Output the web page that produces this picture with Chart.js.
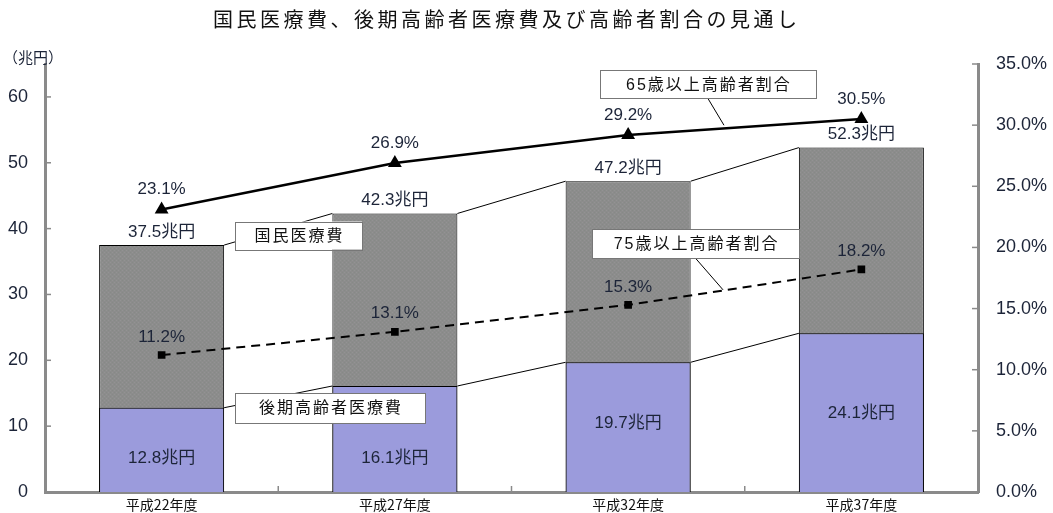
<!DOCTYPE html>
<html>
<head>
<meta charset="utf-8">
<script src="https://cdn.jsdelivr.net/npm/chart.js@4"></script>
<style>
  body { margin: 0; background: #fff; }
  #wrap { width: 1053px; height: 513px; }
</style>
</head>
<body>
<div id="wrap"><canvas id="grafico" width="1053" height="513"></canvas></div>
<script>
// データ
const categories = ['平成22年度', '平成27年度', '平成32年度', '平成37年度'];
const totalCost = [37.5, 42.3, 47.2, 52.3];        // 国民医療費（兆円）
const lateElderlyCost = [12.8, 16.1, 19.7, 24.1];  // 後期高齢者医療費（兆円）
const ratio65 = [23.1, 26.9, 29.2, 30.5];          // 65歳以上高齢者割合（%）
const ratio75 = [11.2, 13.1, 15.3, 18.2];          // 75歳以上高齢者割合（%）

const FONT = "'Liberation Sans', 'Noto Sans CJK JP', sans-serif";
const TEXT = '#1c2438';
const AXIS = '#8a8a8a';

const canvas = document.getElementById('grafico');
const ctx = canvas.getContext('2d');

// 灰色の棒の点描模様
function patternGray() {
  const c = document.createElement('canvas');
  c.width = 4; c.height = 4;
  const g = c.getContext('2d');
  g.fillStyle = '#8c8c8c'; g.fillRect(0, 0, 4, 4);
  g.fillStyle = '#939393'; g.fillRect(0, 0, 1, 1); g.fillRect(2, 2, 1, 1);
  g.fillStyle = '#868a86'; g.fillRect(2, 0, 1, 1); g.fillRect(0, 2, 1, 1);
  return ctx.createPattern(c, 'repeat');
}

// タイトル・単位
const titlePlugin = {
  id: 'titulo',
  afterDraw(chart) {
    const c = chart.ctx;
    c.save();
    c.fillStyle = '#111';
    c.font = "20px 'Noto Sans CJK JP', sans-serif";
    c.letterSpacing = '3.5px';
    c.textAlign = 'left';
    c.textBaseline = 'middle';
    c.fillText('国民医療費、後期高齢者医療費及び高齢者割合の見通し', 213, 19);
    c.letterSpacing = '0px';
    c.font = "15px 'Noto Sans CJK JP', sans-serif";
    c.fillStyle = TEXT;
    c.fillText('（兆円）', 3, 57);
    c.restore();
  }
};

// 棒の間の区分線
const connectorPlugin = {
  id: 'conectores',
  beforeDatasetsDraw(chart) {
    const c = chart.ctx;
    c.save();
    c.strokeStyle = '#000';
    c.lineWidth = 1;
    [0, 1].forEach(di => {
      const bars = chart.getDatasetMeta(di).data;
      for (let i = 0; i < bars.length - 1; i++) {
        const a = bars[i], b = bars[i + 1];
        c.beginPath();
        c.moveTo(a.x + a.width / 2, a.y);
        c.lineTo(b.x - b.width / 2, b.y);
        c.stroke();
      }
    });
    c.restore();
  }
};

// 値ラベルと吹き出し
const labelPlugin = {
  id: 'rotulos',
  afterDatasetsDraw(chart) {
    const c = chart.ctx;
    const x = chart.scales.x, y = chart.scales.y;
    c.save();
    c.fillStyle = TEXT;
    c.textAlign = 'center';
    c.textBaseline = 'middle';
    c.font = '17px ' + FONT;

    chart.getDatasetMeta(1).data.forEach((bar, i) => {
      c.fillText(totalCost[i].toFixed(1) + '兆円', bar.x, bar.y - 13);
    });
    const ajuste = [8, 19, -4, 1]; // 元の図でのラベル位置のずれ
    chart.getDatasetMeta(0).data.forEach((bar, i) => {
      c.fillText(lateElderlyCost[i].toFixed(1) + '兆円', bar.x, (bar.y + bar.base) / 2 + ajuste[i]);
    });
    chart.getDatasetMeta(2).data.forEach((pt, i) => {
      c.fillText(ratio65[i].toFixed(1) + '%', pt.x, pt.y - 20);
    });
    chart.getDatasetMeta(3).data.forEach((pt, i) => {
      c.fillText(ratio75[i].toFixed(1) + '%', pt.x, pt.y - 18);
    });

    const callouts = [
      { text: '国民医療費', cx: 0.587, cy: 38.95, w: 127, h: 28 },
      { text: '後期高齢者医療費', cx: 0.722, cy: 12.76, w: 190, h: 30 },
      { text: '65歳以上高齢者割合', cx: 2.342, cy: 61.9, w: 216, h: 28, lx: 2.411, ly: 55.7 },
      { text: '75歳以上高齢者割合', cx: 2.289, cy: 37.7, w: 207, h: 29, lx: 2.407, ly: 30.7 }
    ];
    callouts.forEach(o => {
      const px = x.getPixelForValue(o.cx), py = y.getPixelForValue(o.cy);
      if (o.lx !== undefined) {
        c.strokeStyle = '#000';
        c.lineWidth = 1;
        c.beginPath();
        c.moveTo(px, py + o.h / 2);
        c.lineTo(x.getPixelForValue(o.lx), y.getPixelForValue(o.ly));
        c.stroke();
      }
      c.fillStyle = '#fff';
      c.fillRect(px - o.w / 2, py - o.h / 2, o.w, o.h);
      c.strokeStyle = '#777';
      c.lineWidth = 1;
      c.strokeRect(Math.round(px - o.w / 2) + 0.5, Math.round(py - o.h / 2) + 0.5, o.w, o.h);
      c.fillStyle = '#111';
      c.font = "16px 'Liberation Sans', 'Noto Sans CJK JP', sans-serif";
      c.letterSpacing = '2px';
      c.fillText(o.text, px + 1, py + 1);
      c.letterSpacing = '0px';
    });
    c.restore();
  }
};

// 内向きの目盛
const tickPlugin = {
  id: 'marcas',
  afterDraw(chart) {
    const c = chart.ctx, a = chart.chartArea;
    c.save();
    c.strokeStyle = AXIS;
    c.lineWidth = 1.5;
    chart.scales.y.ticks.forEach(t => {
      const py = chart.scales.y.getPixelForValue(t.value);
      c.beginPath(); c.moveTo(a.left, py); c.lineTo(a.left + 6, py); c.stroke();
    });
    chart.scales.y2.ticks.forEach(t => {
      const py = chart.scales.y2.getPixelForValue(t.value);
      c.beginPath(); c.moveTo(a.right - 6, py); c.lineTo(a.right, py); c.stroke();
    });
    for (let i = 0; i < categories.length - 1; i++) {
      const px = chart.scales.x.getPixelForValue(i + 0.5);
      c.beginPath(); c.moveTo(px, a.bottom); c.lineTo(px, a.bottom - 6); c.stroke();
    }
    c.restore();
  }
};

// 縦軸の幅を固定し、ラベルのはみ出し分の余白をなくす
function fixWidth(w) {
  return s => { s.width = w; s.paddingTop = 0; s.paddingBottom = 0; };
}

new Chart(canvas, {
  type: 'bar',
  data: {
    labels: categories,
    datasets: [
      {
        label: '後期高齢者医療費',
        data: lateElderlyCost,
        backgroundColor: '#9b9bdc',
        borderColor: '#000',
        borderWidth: 1,
        grouped: false,
        categoryPercentage: 1,
        barPercentage: 0.536,
        yAxisID: 'y',
        order: 1
      },
      {
        label: '国民医療費',
        data: totalCost,
        backgroundColor: patternGray(),
        borderColor: '#000',
        borderWidth: 1,
        grouped: false,
        categoryPercentage: 1,
        barPercentage: 0.536,
        yAxisID: 'y',
        order: 2
      },
      {
        type: 'line',
        label: '65歳以上高齢者割合',
        data: ratio65,
        borderColor: '#000',
        backgroundColor: '#000',
        borderWidth: 2.5,
        pointStyle: 'triangle',
        pointRadius: 5.5,
        yAxisID: 'y2',
        order: 0
      },
      {
        type: 'line',
        label: '75歳以上高齢者割合',
        data: ratio75,
        borderColor: '#000',
        backgroundColor: '#000',
        borderWidth: 2,
        borderDash: [9, 6],
        pointStyle: 'rect',
        pointRadius: 4,
        yAxisID: 'y2',
        order: 0
      }
    ]
  },
  options: {
    responsive: false,
    animation: false,
    layout: { padding: { top: 64, left: 0, right: 0, bottom: 0 } },
    plugins: { legend: { display: false }, tooltip: { enabled: false }, title: { display: false } },
    scales: {
      x: {
        offset: true,
        grid: { display: false, drawTicks: false },
        border: { color: AXIS, width: 3 },
        ticks: { color: '#111', font: { size: 14, family: "'Noto Sans CJK JP', sans-serif" }, padding: 4 },
        afterFit: s => { s.height = 21; }
      },
      y: {
        position: 'left',
        min: 0,
        max: 65,
        grid: { display: false, drawTicks: false },
        border: { color: AXIS, width: 3 },
        ticks: { stepSize: 10, color: TEXT, padding: 17, font: { size: 18, family: FONT } },
        afterBuildTicks: s => { s.ticks = s.ticks.filter(t => t.value <= 60); },
        afterFit: fixWidth(45)
      },
      y2: {
        position: 'right',
        min: 0,
        max: 35,
        grid: { display: false, drawTicks: false },
        border: { color: AXIS, width: 3 },
        ticks: { stepSize: 5, color: TEXT, padding: 18, font: { size: 18, family: FONT },
                 callback: v => v.toFixed(1) + '%' },
        afterFit: fixWidth(75)
      }
    }
  },
  plugins: [titlePlugin, connectorPlugin, labelPlugin, tickPlugin]
});
</script>
</body>
</html>
